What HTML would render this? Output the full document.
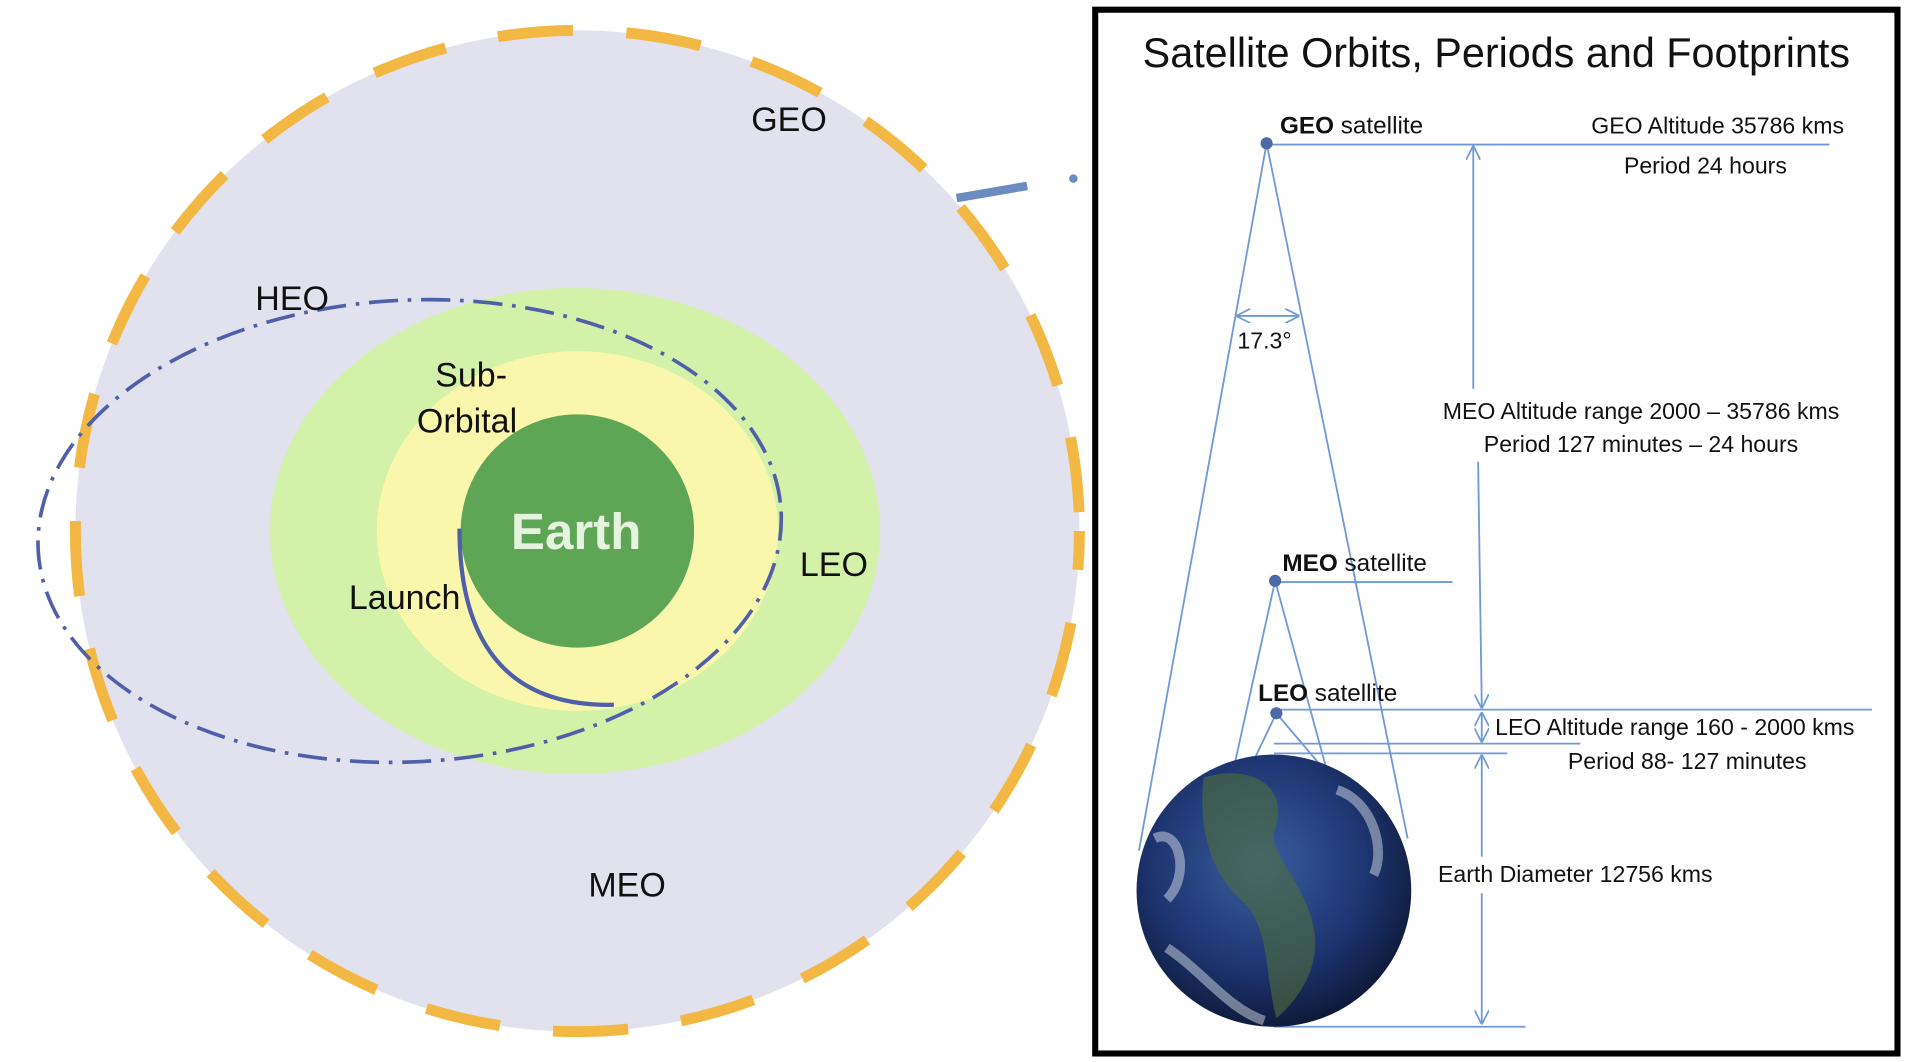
<!DOCTYPE html>
<html><head><meta charset="utf-8"><style>
html,body{margin:0;padding:0;background:#fff;}
svg{display:block;font-family:"Liberation Sans",sans-serif;}
</style></head><body>
<svg width="1906" height="1062" viewBox="0 0 1568 874" preserveAspectRatio="none">
<defs>
<radialGradient id="globe" cx="0.45" cy="0.4" r="0.65">
<stop offset="0" stop-color="#3a5fa0"/><stop offset="0.6" stop-color="#1d3570"/><stop offset="1" stop-color="#0b1530"/>
</radialGradient>
<marker id="ah" viewBox="0 0 10 10" refX="9" refY="5" markerWidth="8" markerHeight="8" orient="auto-start-reverse"><path d="M0,0 L10,5 L0,10" fill="none" stroke="#6f9ad6" stroke-width="1.2"/></marker>
</defs>
<rect width="1568" height="874" fill="#fff"/>
<g>
<ellipse cx="475" cy="437" rx="413" ry="412" fill="#e2e1ee"/>
<ellipse cx="475" cy="437" rx="413" ry="412" fill="none" stroke="#f2b843" stroke-width="9" stroke-dasharray="62 44" stroke-dashoffset="30"/>
<ellipse cx="473" cy="437" rx="251" ry="200" fill="#d3f1a8"/>
<ellipse cx="475" cy="437" rx="165" ry="148" fill="#f9f7ac"/>
<ellipse cx="337" cy="437" rx="306" ry="190" transform="rotate(-3 337 437)" fill="none" stroke="#4f5fa8" stroke-width="3" stroke-dasharray="24 8 3 8"/>
<circle cx="475" cy="437" r="96" fill="#5ea555"/>
<path d="M378,435 C378,520 410,582 505,580" fill="none" stroke="#4f5fa8" stroke-width="3.5"/>
<line x1="787" y1="163" x2="845" y2="153" stroke="#6a8cc0" stroke-width="7"/>
<circle cx="883" cy="147" r="3.5" fill="#6a8cc0"/>
<g font-size="28" fill="#111">
<text x="618" y="108">GEO</text>
<text x="210" y="255">HEO</text>
<text x="358" y="318">Sub-</text>
<text x="343" y="356">Orbital</text>
<text x="287" y="501">Launch</text>
<text x="658" y="474">LEO</text>
<text x="484" y="738">MEO</text>
</g>
<text x="474" y="452" font-size="42" font-weight="bold" fill="#e6f4df" text-anchor="middle">Earth</text>
</g>
<g>
<rect x="901" y="8" width="660" height="859" fill="#fff" stroke="#000" stroke-width="5"/>
<text x="1231" y="55" font-size="34" text-anchor="middle" fill="#111">Satellite Orbits, Periods and Footprints</text>
<g stroke="#6f9ad6" stroke-width="1.5" fill="none">
<line x1="1042" y1="118" x2="937" y2="700"/>
<line x1="1042" y1="118" x2="1158" y2="690"/>
<line x1="1049" y1="478" x2="1000" y2="700"/>
<line x1="1049" y1="478" x2="1115" y2="720"/>
<line x1="1050" y1="587" x2="1015" y2="660"/>
<line x1="1050" y1="587" x2="1095" y2="640"/>
<line x1="1042" y1="119" x2="1505" y2="119"/>
<line x1="1049" y1="479" x2="1195" y2="479"/>
<line x1="1048" y1="584" x2="1540" y2="584"/>
<line x1="1048" y1="612" x2="1300" y2="612"/>
<line x1="1048" y1="620" x2="1240" y2="620"/>
<line x1="1048" y1="845" x2="1255" y2="845"/>
<line x1="1212" y1="320" x2="1212" y2="121" marker-end="url(#ah)"/>
<line x1="1216" y1="380" x2="1219" y2="582" marker-end="url(#ah)"/>
<line x1="1219" y1="587" x2="1219" y2="610" marker-start="url(#ah)" marker-end="url(#ah)"/>
<line x1="1219" y1="705" x2="1219" y2="622" marker-end="url(#ah)"/>
<line x1="1219" y1="735" x2="1219" y2="842" marker-end="url(#ah)"/>
<line x1="1018" y1="260" x2="1068" y2="260" marker-start="url(#ah)" marker-end="url(#ah)"/>
</g>
<g>
<ellipse cx="1048" cy="733" rx="113" ry="112" fill="url(#globe)"/>
<path d="M990,640 C1020,630 1060,640 1050,680 C1040,700 1070,720 1080,760 C1090,800 1060,830 1050,838 C1040,800 1045,760 1020,740 C1000,720 985,690 990,640Z" fill="#4f6e3a" opacity="0.6"/>
<path d="M950,690 C970,680 980,720 960,740 M1100,650 C1130,660 1140,700 1130,720 M960,780 C990,800 1010,830 1040,840" stroke="#e8eef5" stroke-width="8" fill="none" opacity="0.45"/>
</g>
<g fill="#4a6aa8">
<circle cx="1042" cy="118" r="5"/><circle cx="1049" cy="478" r="5"/><circle cx="1050" cy="587" r="5"/>
</g>
<g font-size="20" fill="#111">
<text x="1053" y="110"><tspan font-weight="bold">GEO</tspan> satellite</text>
<text x="1055" y="470"><tspan font-weight="bold">MEO</tspan> satellite</text>
<text x="1035" y="577"><tspan font-weight="bold">LEO</tspan> satellite</text>
</g>
<g font-size="19" fill="#111">
<text x="1517" y="110" text-anchor="end">GEO Altitude  35786 kms</text>
<text x="1403" y="143" text-anchor="middle">Period 24 hours</text>
<text x="1018" y="287">17.3°</text>
<text x="1350" y="345" text-anchor="middle">MEO Altitude  range 2000 – 35786 kms</text>
<text x="1350" y="372" text-anchor="middle">Period 127 minutes – 24 hours</text>
<text x="1230" y="605">LEO Altitude  range 160 - 2000 kms</text>
<text x="1388" y="633" text-anchor="middle">Period 88- 127 minutes</text>
<text x="1183" y="726">Earth Diameter 12756 kms</text>
</g>
</g>
</svg>
</body></html>
